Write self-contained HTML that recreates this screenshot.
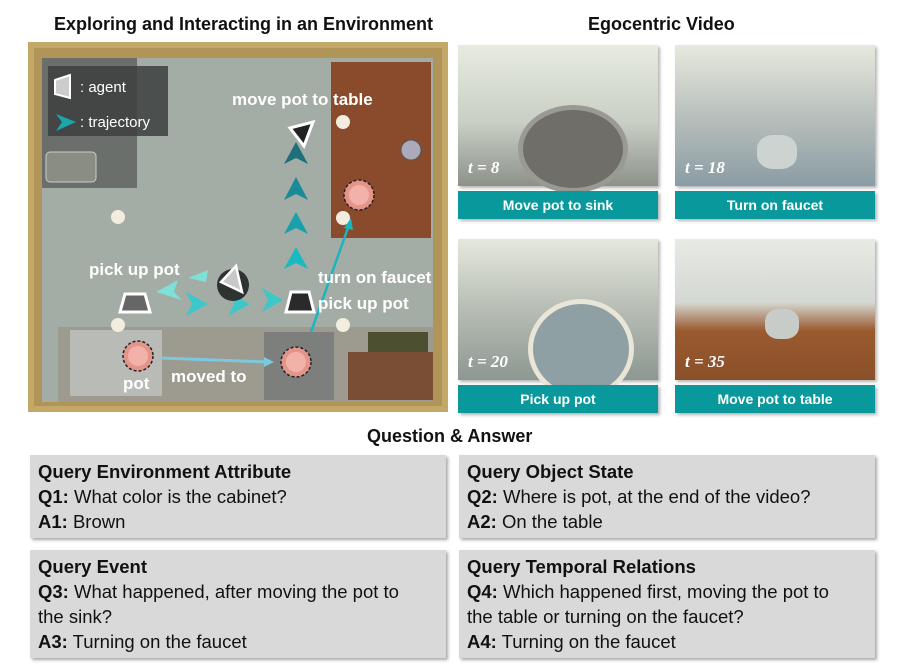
<!DOCTYPE html>
<html><head><meta charset="utf-8"><style>
body{margin:0;width:901px;height:672px;background:#fff;position:relative;overflow:hidden;font-family:"Liberation Sans",Arial,sans-serif}
.abs{position:absolute}
.t{font-weight:bold;font-size:18px;color:#111;position:absolute}
.fr{position:absolute;width:200px;height:141px;box-shadow:2px 2px 3px rgba(0,0,0,.3)}
.lb{position:absolute;width:200px;height:28px;background:#09999c;color:#fff;font-weight:bold;font-size:14px;text-align:center;line-height:28px;box-shadow:2px 2px 3px rgba(0,0,0,.3)}
.tl{position:absolute;left:10px;bottom:8px;color:#fff;font:italic bold 17px "Liberation Serif",serif}
.qa{position:absolute;background:#d9d9d9;box-shadow:2px 2px 3px rgba(0,0,0,.35);font-size:18.5px;color:#111;padding:4px 6px 4px 8px;box-sizing:border-box;line-height:25px;white-space:nowrap}
.qa b{font-weight:bold}
</style></head><body>
<div class="t" style="left:54px;top:14px">Exploring and Interacting in an Environment</div>
<div class="t" style="left:588px;top:14px">Egocentric Video</div>
<div class="t" style="left:367px;top:426px">Question &amp; Answer</div>

<svg class="abs" style="left:28px;top:42px" width="420" height="370" viewBox="0 0 420 370">
<rect x="0" y="0" width="420" height="370" fill="#c4a868"/>
<rect x="6" y="6" width="408" height="358" fill="#b09458"/>
<rect x="14" y="16" width="391" height="344" fill="#a3aca5"/>
<rect x="14" y="16" width="95" height="130" fill="#6a6f6c"/>
<rect x="18" y="110" width="50" height="30" rx="4" fill="#8a8d84" stroke="#ccc"/>
<rect x="20" y="24" width="120" height="70" fill="#3c403e" opacity=".85"/>
<polygon points="27,38 42,33 42,56 27,52" fill="#ccc" stroke="#fff" stroke-width="2"/>
<text x="52" y="50" fill="#fff" font-size="15">: agent</text>
<polygon points="28,72 48,80 28,89 34,80" fill="#1aa6ad"/>
<text x="52" y="85" fill="#fff" font-size="15">: trajectory</text>
<rect x="303" y="20" width="100" height="176" fill="#8a4a2c"/>
<circle cx="383" cy="108" r="10" fill="#aab" stroke="#555"/>
<rect x="30" y="285" width="375" height="75" fill="#9d9a90"/>
<rect x="42" y="288" width="92" height="66" fill="#b9bcb6"/>
<rect x="236" y="290" width="70" height="68" fill="#7d7f7c"/>
<rect x="340" y="290" width="60" height="20" fill="#4d5030"/>
<rect x="320" y="310" width="85" height="48" fill="#7a4e34"/>
<g fill="#f3ede0"><circle cx="90" cy="175" r="7"/><circle cx="315" cy="80" r="7"/><circle cx="315" cy="176" r="7"/><circle cx="90" cy="283" r="7"/><circle cx="315" cy="283" r="7"/></g>
<g fill="#e3958a" stroke="#222" stroke-dasharray="3,2" stroke-width="1.5"><circle cx="331" cy="153" r="15"/><circle cx="110" cy="314" r="15"/><circle cx="268" cy="320" r="15"/></g>
<g fill="#f2b2aa"><circle cx="331" cy="153" r="10"/><circle cx="110" cy="314" r="10"/><circle cx="268" cy="320" r="10"/></g>
<line x1="133" y1="316" x2="240" y2="320" stroke="#7cc8df" stroke-width="3"/>
<polygon points="246,320 236,315 236,325" fill="#7cc8df"/>
<line x1="283" y1="290" x2="321" y2="183" stroke="#1ab5c0" stroke-width="2.5"/>
<polygon points="323,176 316,186 325,188" fill="#1ab5c0"/>
<g fill="#1e6f7c"><polygon points="268,100 256,122 268,116 280,122"/></g>
<g fill="#1a8a97"><polygon points="268,135 256,158 268,152 280,158"/></g>
<g fill="#1aa0ab"><polygon points="268,170 256,192 268,186 280,192"/></g>
<g fill="#1ab8c0"><polygon points="268,205 256,227 268,221 280,227"/></g>
<g fill="#3cc8c8"><polygon points="255,258 234,246 240,258 234,270"/><polygon points="222,262 200,250 206,262 200,274"/><polygon points="180,262 158,250 164,262 158,274"/></g>
<g fill="#7fe0d8"><polygon points="128,250 150,238 146,250 154,258"/><polygon points="160,236 180,228 178,240"/></g>
<circle cx="205" cy="243" r="16" fill="#2e3230"/>
<polygon points="193,240 208,224 214,250" fill="#c8c8c8" stroke="#fff" stroke-width="2.5"/>
<polygon points="97,252 117,252 122,270 92,270" fill="#666" stroke="#fff" stroke-width="3"/>
<polygon points="263,250 281,250 286,270 258,270" fill="#2a2a2a" stroke="#fff" stroke-width="3"/>
<polygon points="262,86 285,80 276,104" fill="#222" stroke="#fff" stroke-width="3"/>
<g fill="#fff" font-weight="bold" font-size="17">
<text x="204" y="63">move pot to table</text>
<text x="61" y="233">pick up pot</text>
<text x="290" y="241">turn on faucet</text>
<text x="290" y="267">pick up pot</text>
<text x="95" y="347">pot</text>
<text x="143" y="340">moved to</text></g>
</svg>

<div class="fr" style="left:458px;top:45px;background:linear-gradient(180deg,#e8ece0 0%,#c9cfc4 55%,#8c918a 100%)"><div class="abs" style="left:60px;top:60px;width:100px;height:78px;border-radius:50%;background:#6f6e68;border:5px solid #9a9a94"></div><div class="tl">t = 8</div></div>
<div class="lb" style="left:458px;top:191px">Move pot to sink</div>
<div class="fr" style="left:675px;top:45px;background:linear-gradient(180deg,#e6e9df 0%,#b9c0bc 50%,#8a9ca4 100%)"><div class="abs" style="left:82px;top:90px;width:40px;height:34px;border-radius:40%;background:#ccd3d0"></div><div class="tl">t = 18</div></div>
<div class="lb" style="left:675px;top:191px">Turn on faucet</div>
<div class="fr" style="left:458px;top:239px;background:linear-gradient(180deg,#e5e8dc 0%,#b7bdb4 50%,#8d9892 100%)"><div class="abs" style="left:70px;top:60px;width:96px;height:90px;border-radius:50%;background:#8fa0a4;border:5px solid #e9e6d8"></div><div class="tl">t = 20</div></div>
<div class="lb" style="left:458px;top:385px">Pick up pot</div>
<div class="fr" style="left:675px;top:239px;background:linear-gradient(180deg,#e8eae4 0%,#d4d8d2 45%,#9a5a30 65%,#8a5028 100%)"><div class="abs" style="left:90px;top:70px;width:34px;height:30px;border-radius:40%;background:#c8ccc8"></div><div class="tl">t = 35</div></div>
<div class="lb" style="left:675px;top:385px">Move pot to table</div>

<div class="qa" style="left:30px;top:455px;width:416px;height:83px"><b>Query Environment Attribute</b><br><b>Q1:</b> What color is the cabinet?<br><b>A1:</b> Brown</div>
<div class="qa" style="left:459px;top:455px;width:416px;height:83px"><b>Query Object State</b><br><b>Q2:</b> Where is pot, at the end of the video?<br><b>A2:</b> On the table</div>
<div class="qa" style="left:30px;top:550px;width:416px;height:108px"><b>Query Event</b><br><b>Q3:</b> What happened, after moving the pot to<br>the sink?<br><b>A3:</b> Turning on the faucet</div>
<div class="qa" style="left:459px;top:550px;width:416px;height:108px"><b>Query Temporal Relations</b><br><b>Q4:</b> Which happened first, moving the pot to<br>the table or turning on the faucet?<br><b>A4:</b> Turning on the faucet</div>
</body></html>
